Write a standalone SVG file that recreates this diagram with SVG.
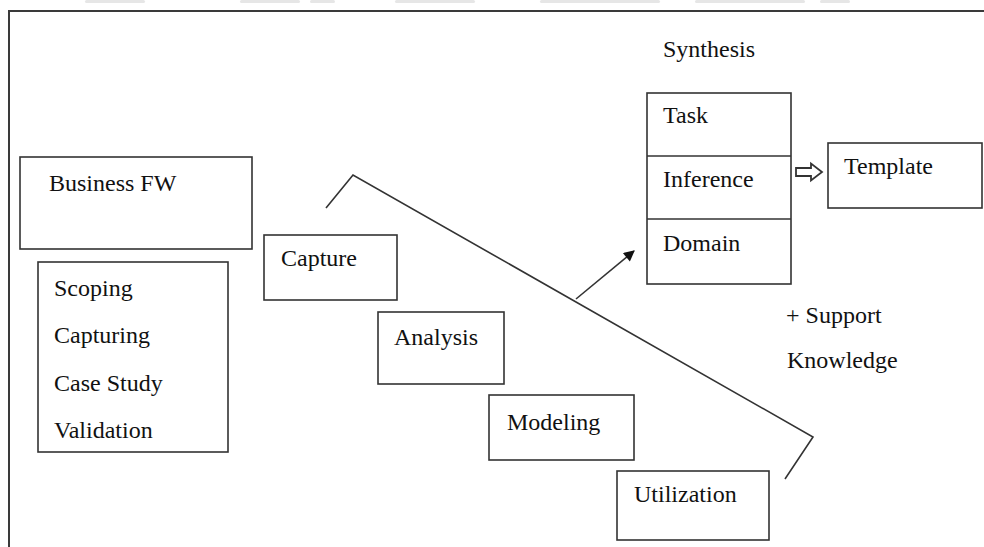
<svg xmlns="http://www.w3.org/2000/svg" width="984" height="547" viewBox="0 0 984 547">
  <style>
    .box { fill: #ffffff; stroke: #333333; stroke-width: 1.6; }
    .frame { fill: none; stroke: #3a3a3a; stroke-width: 2; }
    .lbl { font-family: "Liberation Serif", "Times New Roman", serif; font-size: 24px; fill: #111111; }
    .ln { fill: none; stroke: #333333; stroke-width: 1.6; }
    .smudge { fill: #e6e6e6; }
  </style>
  <defs>
    <marker id="head" viewBox="0 0 10 10" refX="9" refY="5" markerWidth="13" markerHeight="11" orient="auto" markerUnits="userSpaceOnUse">
      <path d="M0,0 L10,5 L0,10 z" fill="#111111"/>
    </marker>
  </defs>
  <rect width="984" height="547" fill="#ffffff"/>

  <!-- faint marks along the top edge -->
  <g id="top-marks">
    <rect class="smudge" x="85" y="0" width="60" height="3" rx="1.5"/>
    <rect class="smudge" x="240" y="0" width="60" height="3" rx="1.5"/>
    <rect class="smudge" x="310" y="0" width="25" height="3" rx="1.5"/>
    <rect class="smudge" x="395" y="0" width="80" height="3" rx="1.5"/>
    <rect class="smudge" x="540" y="0" width="120" height="3" rx="1.5"/>
    <rect class="smudge" x="695" y="0" width="110" height="3" rx="1.5"/>
    <rect class="smudge" x="820" y="0" width="30" height="3" rx="1.5"/>
  </g>

  <!-- outer frame, open at right and bottom -->
  <path class="frame" d="M9,547 L9,11 L984,11"/>

  <g id="business-fw">
    <rect class="box" x="20" y="157" width="232" height="92"/>
    <text class="lbl" x="49" y="191">Business FW</text>
  </g>

  <g id="activities">
    <rect class="box" x="38" y="262" width="190" height="190"/>
    <text class="lbl" x="54" y="296">Scoping</text>
    <text class="lbl" x="54" y="343">Capturing</text>
    <text class="lbl" x="54" y="391">Case Study</text>
    <text class="lbl" x="54" y="438">Validation</text>
  </g>

  <g id="capture">
    <rect class="box" x="264" y="235" width="133" height="65"/>
    <text class="lbl" x="281" y="266">Capture</text>
  </g>

  <g id="analysis">
    <rect class="box" x="378" y="312" width="126" height="72"/>
    <text class="lbl" x="394" y="345">Analysis</text>
  </g>

  <g id="modeling">
    <rect class="box" x="489" y="395" width="145" height="65"/>
    <text class="lbl" x="507" y="430">Modeling</text>
  </g>

  <g id="utilization">
    <rect class="box" x="617" y="471" width="152" height="69"/>
    <text class="lbl" x="634" y="502">Utilization</text>
  </g>

  <g id="synthesis">
    <text class="lbl" x="663" y="57">Synthesis</text>
    <rect class="box" x="647" y="93" width="144" height="191"/>
    <line class="ln" x1="647" y1="156" x2="791" y2="156"/>
    <line class="ln" x1="647" y1="219" x2="791" y2="219"/>
    <text class="lbl" x="663" y="123">Task</text>
    <text class="lbl" x="663" y="187">Inference</text>
    <text class="lbl" x="663" y="251">Domain</text>
  </g>

  <g id="template">
    <rect class="box" x="828" y="143" width="154" height="65"/>
    <text class="lbl" x="844" y="174">Template</text>
  </g>

  <g id="support-knowledge">
    <text class="lbl" x="786" y="323">+ Support</text>
    <text class="lbl" x="787" y="368">Knowledge</text>
  </g>

  <g id="connectors">
    <polyline class="ln" points="326,208 353,175 813,437 785,479"/>
    <line class="ln" x1="576" y1="299" x2="634" y2="251" marker-end="url(#head)"/>
    <!-- hollow block arrow between the stack and Template -->
    <path d="M796,168 L811,168 L811,163.5 L822,172 L811,180.5 L811,176 L796,176 Z" fill="#ffffff" stroke="#333333" stroke-width="1.8"/>
  </g>
</svg>
